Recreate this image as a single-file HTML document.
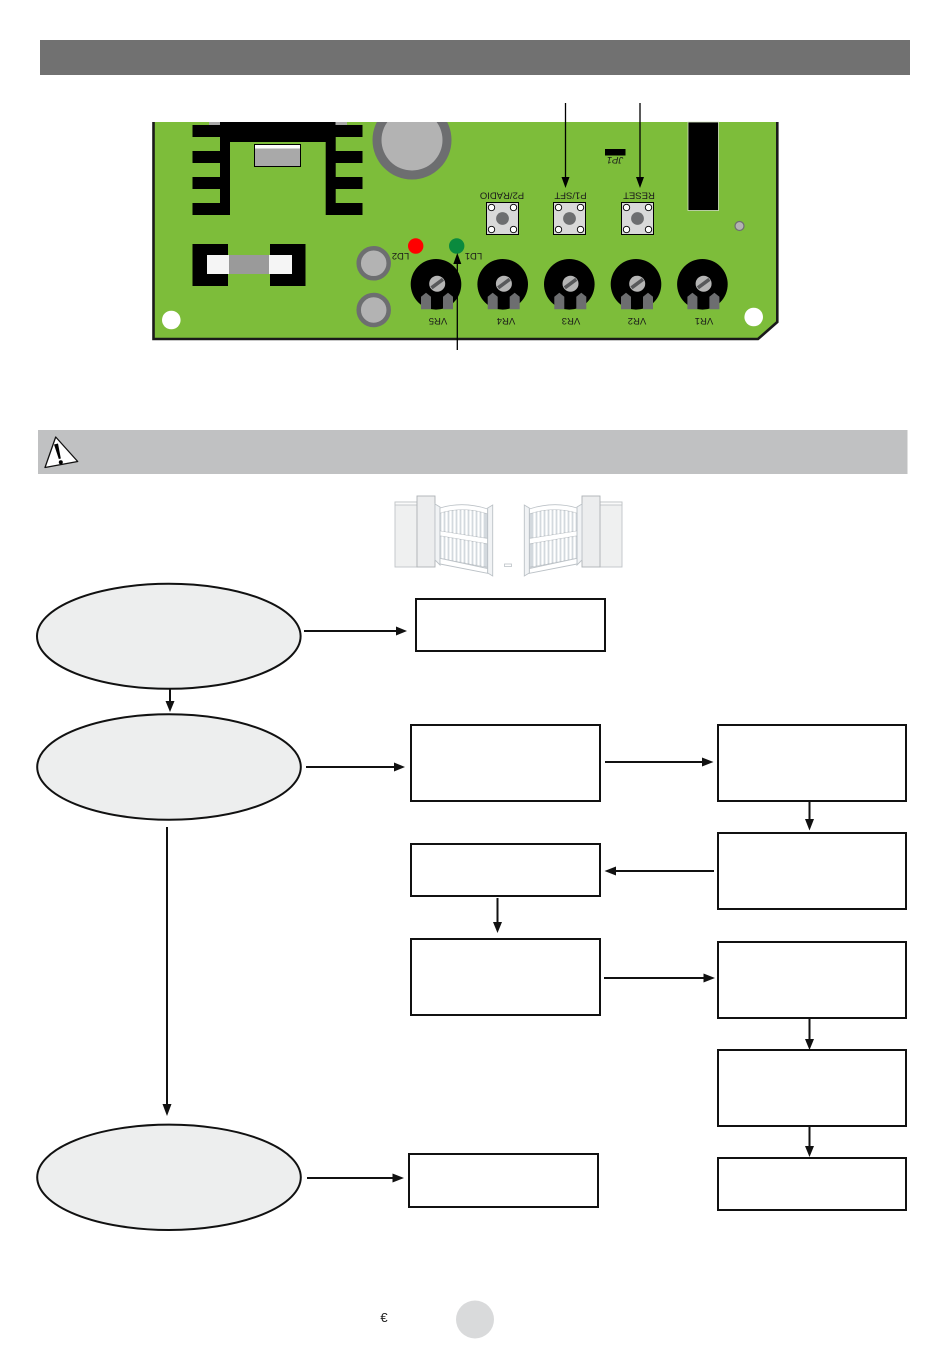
<!DOCTYPE html>
<html>
<head>
<meta charset="utf-8">
<style>
html,body{margin:0;padding:0;background:#fff;width:950px;height:1360px;overflow:hidden}
svg{display:block}
text{font-family:"Liberation Sans",sans-serif}
</style>
</head>
<body>
<svg width="950" height="1360" viewBox="0 0 950 1360" xmlns="http://www.w3.org/2000/svg">
<defs>
<clipPath id="top"><rect x="140" y="122" width="660" height="230"/></clipPath>
<clipPath id="bars"><path d="M440 513.300Q463 506 487.700 514V538.300L440 530.700ZM440 536L487.700 544V567.300L440 558.300Z"/></clipPath>
<g id="vr">
<circle cx="0" cy="0" r="25.300" fill="#000"/>
<circle cx="1.200" cy="-0.600" r="8" fill="#b5b5b5"/>
<path d="M-4.500 3.500L7 -5" stroke="#58595b" stroke-width="3.600"/>
<path d="M-15 25V12.400L-10 8.400L-5 12.400V25Z" fill="#6d6e70"/>
<path d="M7 25V12.400L12 8.400L17 12.400V25Z" fill="#6d6e70"/>
</g>
<g id="btn">
<rect x="0.500" y="0.500" width="32" height="32" fill="#d9d9d9" stroke="#000" stroke-width="1"/>
<circle cx="16.500" cy="16.500" r="6.400" fill="#6d6e70"/>
<g fill="#fff" stroke="#000" stroke-width="0.900">
<circle cx="5.500" cy="5.500" r="3.200"/><circle cx="27.500" cy="5.500" r="3.200"/>
<circle cx="5.500" cy="27.500" r="3.200"/><circle cx="27.500" cy="27.500" r="3.200"/>
</g>
</g>
<g id="gate" fill="#fff" stroke="#bcc2c7" stroke-width="0.900">
<rect x="395" y="502" width="22" height="65" fill="#eff0f0" stroke="#c0c4c7"/>
<rect x="395" y="502" width="22" height="3" fill="#fafafa" stroke="#c0c4c7"/>
<rect x="417" y="496" width="18" height="71" fill="#ecedee" stroke="#aeb2b5"/>
<path d="M435 504L440 507V565L435 560Z" fill="#f1f3f5"/>
<path d="M440 508Q463 501 487.700 509V568.500L440 564Z"/>
<path d="M440 513.300Q463 506 487.700 514V538.300L440 530.700ZM440 536L487.700 544V567.300L440 558.300Z" fill="#d3d9de"/>
<g clip-path="url(#bars)">
<path d="M442.500 505V570M446.500 505V570M450.500 505V570M454.500 505V570M458.500 505V570M462.500 505V570M466.500 505V570M470.500 505V570M474.500 505V570M478.500 505V570M482.500 505V570" fill="none" stroke="#fff" stroke-width="2.200"/>
</g>
<path d="M440 564L487.700 573.300V568.500L440 558.300Z" fill="#fff"/>
<path d="M487.700 508L492.700 505V576L487.700 573Z" fill="#f1f3f5"/>
</g>
</defs>

<rect x="40" y="40" width="870" height="35" fill="#717171"/>

<!-- board -->
<path d="M153.500 122V339H758L777 322V122Z" fill="#7dbd3a"/>
<g clip-path="url(#top)">
<circle cx="412" cy="140" r="39.500" fill="#6d6e70"/>
<circle cx="412" cy="140" r="30.500" fill="#b3b3b3"/>
</g>
<path d="M153.500 122V339H758L777.300 322V122" fill="none" stroke="#1a1a1a" stroke-width="2.600"/>
<rect x="209" y="122" width="12" height="3.500" fill="#a8a8a8"/>
<rect x="335" y="122" width="12" height="3.500" fill="#a8a8a8"/>
<g fill="#000">
<rect x="220" y="122" width="115.500" height="20"/>
<rect x="192.500" y="125" width="170" height="12"/>
<rect x="220" y="125" width="10" height="90"/>
<rect x="325.700" y="125" width="10" height="90"/>
<rect x="192.500" y="151" width="37" height="12"/>
<rect x="192.500" y="177" width="37" height="12"/>
<rect x="192.500" y="203" width="37" height="12"/>
<rect x="326" y="151" width="36.500" height="12"/>
<rect x="326" y="177" width="36.500" height="12"/>
<rect x="326" y="203" width="36.500" height="12"/>
</g>
<rect x="254.500" y="144.500" width="46" height="22" fill="#a9a9a9" stroke="#000" stroke-width="1"/>
<rect x="255" y="145" width="45" height="3.500" fill="#fff"/>
<g fill="#000">
<rect x="192.500" y="244" width="35.500" height="42"/>
<rect x="270" y="244" width="35.500" height="42"/>
</g>
<rect x="207" y="255" width="85" height="19" fill="#f5f5f5"/>
<rect x="229" y="255" width="40" height="19" fill="#9a9a9a"/>
<g fill="#b3b3b3" stroke="#6d6e70" stroke-width="4.500">
<circle cx="373.700" cy="263.300" r="15"/>
<circle cx="373.700" cy="310" r="15"/>
</g>
<circle cx="415.700" cy="246" r="7.700" fill="#f00"/>
<circle cx="456.700" cy="246" r="7.700" fill="#0a8a3e"/>
<circle cx="171.300" cy="320" r="9.300" fill="#fff"/>
<circle cx="753.700" cy="317" r="9.300" fill="#fff"/>
<use href="#vr" x="436" y="284.300"/>
<use href="#vr" x="502.700" y="284.300"/>
<use href="#vr" x="569.300" y="284.300"/>
<use href="#vr" x="636" y="284.300"/>
<use href="#vr" x="702.400" y="284.300"/>
<use href="#btn" x="486" y="202"/>
<use href="#btn" x="553" y="202"/>
<use href="#btn" x="621" y="202"/>
<rect x="688" y="122" width="30.500" height="88.500" fill="#000" stroke="#d8e8c4" stroke-width="0.800"/>
<circle cx="739.500" cy="226" r="4.500" fill="#b3b3b3" stroke="#6d6e70" stroke-width="1.200"/>
<rect x="605" y="149" width="20.500" height="6.500" fill="#000"/>
<g font-size="9.500" fill="#1a1a1a" text-anchor="middle">
<text transform="translate(438,318) rotate(180)">VR5</text>
<text transform="translate(506,318) rotate(180)">VR4</text>
<text transform="translate(571,318) rotate(180)">VR3</text>
<text transform="translate(637,318) rotate(180)">VR2</text>
<text transform="translate(704,318) rotate(180)">VR1</text>
<text transform="translate(502,192.500) rotate(180)">P2/RADIO</text>
<text transform="translate(570.500,192.500) rotate(180)">P1/SFT</text>
<text transform="translate(639,192.500) rotate(180)">RESET</text>
<text transform="translate(400.500,253) rotate(180)">LD2</text>
<text transform="translate(473.500,253) rotate(180)">LD1</text>
<text transform="translate(615,157) rotate(180)" font-style="italic">JP1</text>
</g>

<!-- board arrows -->
<g stroke="#000" stroke-width="1.300">
<path d="M565.500 103V180"/><path d="M640 103V180"/><path d="M457.300 350V262"/>
</g>
<path d="M561.500 177H569.500L565.500 188Z M636 177H644L640 188Z M453.300 264H461.300L457.300 253Z" fill="#000"/>

<!-- warning bar -->
<rect x="38" y="430" width="869.500" height="44" fill="#c0c1c2"/>
<path d="M55.700 437L77.700 461.500L45 467.500Z" fill="#fff" stroke="#111" stroke-width="1.300" stroke-linejoin="round"/>
<path d="M54 444.500L58 443.500L60.800 458.500L58.800 459Z" fill="#000"/>
<circle cx="60.800" cy="462.300" r="2" fill="#000"/>

<!-- gates -->
<use href="#gate"/>
<use href="#gate" transform="translate(1017,0) scale(-1,1)"/>
<rect x="504.500" y="564" width="7" height="2.500" fill="#fff" stroke="#bcc2c7" stroke-width="0.800"/>

<!-- flowchart -->
<g fill="#edeeee" stroke="#111" stroke-width="2">
<ellipse cx="168.800" cy="636.300" rx="131.800" ry="52.500"/>
<ellipse cx="169" cy="767" rx="131.800" ry="52.700"/>
<ellipse cx="169" cy="1177.300" rx="131.800" ry="52.700"/>
</g>
<g fill="#fff" stroke="#111" stroke-width="2">
<rect x="416" y="599" width="189" height="52"/>
<rect x="411" y="725" width="189" height="76"/>
<rect x="718" y="725" width="188" height="76"/>
<rect x="718" y="833" width="188" height="76"/>
<rect x="411" y="844" width="189" height="52"/>
<rect x="411" y="939" width="189" height="76"/>
<rect x="718" y="942" width="188" height="76"/>
<rect x="718" y="1050" width="188" height="76"/>
<rect x="718" y="1158" width="188" height="52"/>
<rect x="409" y="1154" width="189" height="53"/>
</g>
<g stroke="#111" stroke-width="2" fill="none">
<path d="M304 631H397"/>
<path d="M170 689V702"/>
<path d="M306 767H395"/>
<path d="M605 762H703"/>
<path d="M809.500 802V820"/>
<path d="M714 871H614"/>
<path d="M497.500 898V923"/>
<path d="M604 978H705"/>
<path d="M809.500 1019V1040"/>
<path d="M809.500 1127V1147"/>
<path d="M167 827V1106"/>
<path d="M307 1178H394"/>
</g>
<g fill="#111">
<path d="M396 626.500V635.500L407 631Z"/>
<path d="M165.500 701H174.500L170 712Z"/>
<path d="M394 762.500V771.500L405 767Z"/>
<path d="M702 757.500V766.500L713.500 762Z"/>
<path d="M805 819H814L809.500 830.500Z"/>
<path d="M616 866.500V875.500L604.500 871Z"/>
<path d="M493 922H502L497.500 933Z"/>
<path d="M703.500 973.500V982.500L715 978Z"/>
<path d="M805 1039H814L809.500 1050Z"/>
<path d="M805 1146H814L809.500 1157Z"/>
<path d="M162.500 1104H171.500L167 1116Z"/>
<path d="M392.500 1173.500V1182.500L404 1178Z"/>
</g>

<!-- footer -->
<text x="384" y="1322" font-size="13" text-anchor="middle" fill="#222">€</text>
<circle cx="475" cy="1319.500" r="19" fill="#d9dadb"/>
</svg>
</body>
</html>
